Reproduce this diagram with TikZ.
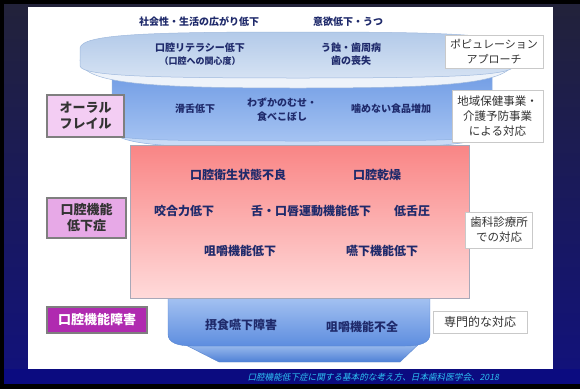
\documentclass[tikz,border=0pt]{standalone}
\usepackage{fontspec}
\setmainfont{Noto Sans CJK JP}
\newfontfamily\citefont{Noto Sans CJK JP}[FakeSlant=0.22]
\definecolor{navytxt}{HTML}{1F2A6B}
\definecolor{darktxt}{HTML}{333333}
\definecolor{boxgray}{HTML}{C9C9C9}
\definecolor{lboxedge}{HTML}{7F7F7F}
\definecolor{oralfill}{HTML}{F3CDF3}
\definecolor{teikafill}{HTML}{E7A9E7}
\definecolor{shogaifill}{HTML}{B02AB0}
\definecolor{disktop}{HTML}{B3CAE9}
\definecolor{diskbot}{HTML}{D5E2F3}
\definecolor{diskrim}{HTML}{EEF3FA}
\definecolor{diskedge}{HTML}{9FB9DD}
\definecolor{cyltop}{HTML}{6F9BE4}
\definecolor{cylbot}{HTML}{A5C3F2}
\definecolor{cylrim}{HTML}{C8DBF6}
\definecolor{cylrimedge}{HTML}{8EB0E2}
\definecolor{pinktop}{HTML}{F98585}
\definecolor{pinkbot}{HTML}{FFDADA}
\definecolor{pinkedge}{HTML}{A8A8B8}
\definecolor{funatop}{HTML}{A3C1F1}
\definecolor{funabot}{HTML}{5D8DDF}
\definecolor{funbtop}{HTML}{B0CBF3}
\definecolor{funbbot}{HTML}{4E80D6}
\definecolor{funedge}{HTML}{5A86D0}
\definecolor{bgtop}{HTML}{22223A}
\definecolor{bgbot}{HTML}{12127A}
\definecolor{bgnavy}{HTML}{0B0B80}
\definecolor{citecol}{HTML}{2EC4F5}
\tikzset{
  toplbl/.style={font=\fontsize{10}{14}\selectfont\bfseries, text=navytxt, inner sep=0pt, align=center},
  smalllbl/.style={font=\fontsize{9}{12}\selectfont\bfseries, text=navytxt, inner sep=0pt},
  biglbl/.style={font=\fontsize{12}{15}\selectfont\bfseries, text=navytxt, inner sep=0pt},
  rbox/.style={draw=boxgray, fill=white, line width=0.8pt, align=center, text=darktxt,
    font=\fontsize{11.5}{15}\selectfont, inner sep=0pt},
  lbox/.style={draw=lboxedge, line width=1.3pt, align=center, text=darktxt,
    font=\fontsize{13}{16}\selectfont\bfseries, inner sep=0pt}
}
\begin{document}
\begin{tikzpicture}[x=1pt,y=-1pt]
\useasboundingbox (0,0) rectangle (580,389);
% background
\fill[black] (0,0) rectangle (580,389);
\shade[top color=bgtop,bottom color=bgbot] (4,4) rectangle (580,369);
\fill[bgnavy] (4,369) rectangle (580,384);
\fill[white] (28,7) rectangle (553,369);
% funnel (bottom)
\shade[top color=funbtop,bottom color=funbbot,draw=funedge,line width=0.4pt]
  (176,340) -- (423,340) -- (400,362) -- (219,362) -- cycle;
\shade[top color=funatop,bottom color=funabot,draw=funedge,line width=0.4pt]
  (168,298) -- (430,298) -- (430,334) .. controls (430,343) and (420,346) .. (405,346)
  -- (193,346) .. controls (178,346) and (168,343) .. (168,334) -- cycle;
% oral frailty cylinder
\filldraw[fill=cylrim,draw=cylrimedge,line width=0.5pt]
  (112,128) .. controls (113,146) and (170,148) .. (302,148)
  .. controls (434,148) and (491,146) .. (492,128) -- cycle;
\shade[top color=cyltop,bottom color=cylbot,draw=cylrimedge,line width=0.5pt]
  (112,70) -- (492,70) -- (492,133) .. controls (490,140) and (440,141) .. (302,141)
  .. controls (164,141) and (114,140) .. (112,133) -- cycle;
% population disk
\filldraw[fill=diskrim,draw=diskedge,line width=0.5pt]
  (80,60) .. controls (82,84) and (150,88) .. (298,88)
  .. controls (446,88) and (512,84) .. (514,60) -- cycle;
\shade[top color=disktop,bottom color=diskbot,draw=diskedge,line width=0.5pt]
  (80,48) .. controls (82,34) and (150,32) .. (298,32)
  .. controls (446,32) and (512,34) .. (514,48) -- (514,66)
  .. controls (512,76) and (446,78) .. (298,78)
  .. controls (150,78) and (82,76) .. (80,66) -- cycle;
% pink block
\shade[top color=pinktop,bottom color=pinkbot,draw=pinkedge,line width=0.6pt]
  (130,145) rectangle (469,298);
% left boxes
\node[lbox,fill=oralfill,minimum width=77pt,minimum height=42pt] (oral) at (85.5,116) {オーラル\\フレイル};
\node[lbox,fill=teikafill,minimum width=79pt,minimum height=40pt] (teika) at (86.5,218) {口腔機能\\低下症};
\node[lbox,fill=shogaifill,text=white,minimum width=100pt,minimum height=26pt] (shogai) at (97,320) {口腔機能障害};
% right boxes
\node[rbox,font=\fontsize{11}{15}\selectfont,minimum width=98pt,minimum height=33pt] (pop) at (494,51.5) {ポピュレーション\\アプローチ};
\node[rbox,minimum width=91pt,minimum height=52pt] (chiiki) at (497.5,116) {地域保健事業・\\介護予防事業\\による対応};
\node[rbox,minimum width=67pt,minimum height=36pt] (shika) at (499,230) {歯科診療所\\での対応};
\node[rbox,font=\fontsize{12}{15}\selectfont,minimum width=94pt,minimum height=22pt] (senmon) at (480,322) {専門的な対応};
% top texts
\node[toplbl] (t1) at (199,22) {社会性・生活の広がり低下};
\node[toplbl] (t2) at (348,22) {意欲低下・うつ};
\node[toplbl] (d1) at (200,48) {口腔リテラシー低下};
\node[smalllbl] (d2) at (200,61) {（口腔への関心度）};
\node[toplbl] (d3) at (351,48) {う蝕・歯周病};
\node[toplbl] (d4) at (351,61) {歯の喪失};
% oral frailty texts
\node[toplbl] (c1) at (195,109) {滑舌低下};
\node[toplbl] (c2) at (282,110) {わずかのむせ・\\食べこぼし};
\node[toplbl] (c3) at (391,109) {噛めない食品増加};
% pink texts
\node[biglbl] (p1) at (238,175) {口腔衛生状態不良};
\node[biglbl] (p2) at (377,175) {口腔乾燥};
\node[biglbl] (p3) at (184,211) {咬合力低下};
\node[biglbl] (p4) at (311,211) {舌・口唇運動機能低下};
\node[biglbl] (p5) at (412,211) {低舌圧};
\node[biglbl] (p6) at (240,251) {咀嚼機能低下};
\node[biglbl] (p7) at (382,251) {嚥下機能低下};
% funnel texts
\node[biglbl] (f1) at (241,325) {摂食嚥下障害};
\node[biglbl] (f2) at (362,327) {咀嚼機能不全};
% citation
\node[anchor=east,inner sep=0pt,text=citecol,font=\citefont\fontsize{8.6}{11}\selectfont] (cite) at (499,377) {口腔機能低下症に関する基本的な考え方、日本歯科医学会、2018};
\end{tikzpicture}
\end{document}
